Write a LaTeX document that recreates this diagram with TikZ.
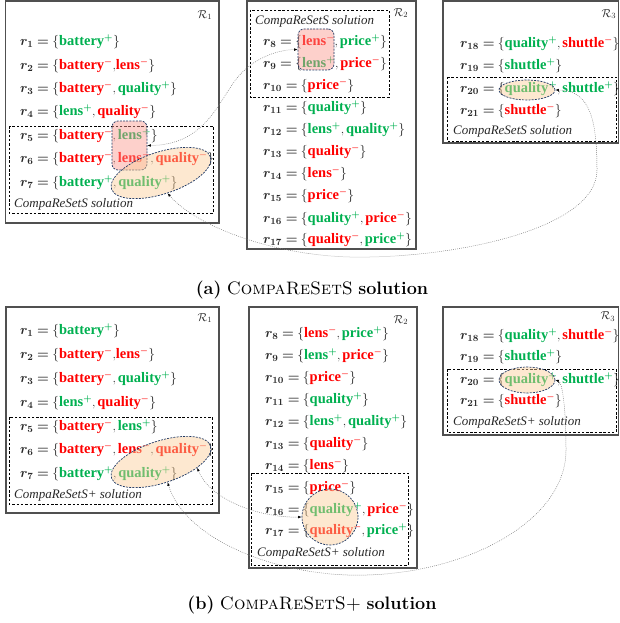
\RequirePackage{fix-cm}
\documentclass[tikz,border=0pt]{standalone}
\usepackage{fontspec}
\newfontfamily\tnr{Liberation Serif}
\usetikzlibrary{shapes.geometric,arrows.meta}
\definecolor{gr}{RGB}{0,176,80}
\definecolor{rd}{RGB}{255,0,0}
\definecolor{dk}{RGB}{40,40,40}
\definecolor{boxc}{RGB}{80,80,80}
\definecolor{pinkf}{RGB}{250,150,140}
\definecolor{orf}{RGB}{250,205,150}
\definecolor{nv}{RGB}{31,56,100}
\definecolor{cn}{RGB}{120,120,120}
\newcommand\wrd[1]{{\tnr\bfseries\fontsize{14.5}{16}\selectfont #1}}
\newcommand\Pw[1]{\textcolor{gr}{\wrd{#1}{\boldmath$^{+}$}}}
\newcommand\Nw[1]{\textcolor{rd}{\wrd{#1}{\boldmath$^{-}$}}}
\newcommand\rr[1]{{\fontsize{13.5}{15}\selectfont\boldmath$r_{#1}$\hspace{.28em}$=$\hspace{.25em}\unboldmath$\{$}}
\newcommand\cb{{\fontsize{13.5}{15}\selectfont$\}$}}
\newcommand\cm{,\hspace{.15em}}
\tikzset{
  rowt/.style={anchor=west, inner sep=0pt, font=\fontsize{12.5}{14}\selectfont, text=dk},
  sollab/.style={anchor=west, inner sep=0pt, font=\tnr\itshape\fontsize{13}{15}\selectfont, text=dk},
  rlab/.style={inner sep=0pt, text=dk, font=\fontsize{11.5}{12}\selectfont},
  outbox/.style={draw=boxc, line width=1.1pt},
  dbox/.style={draw=black, line width=0.8pt, dash pattern=on 2.5pt off 1.8pt},
  hl/.style={draw=nv, line width=0.7pt, dash pattern=on 2pt off 1.2pt, fill opacity=0.45},
  redr/.style={hl, fill=pinkf, rectangle, rounded corners=6pt, inner sep=0pt},
  orell/.style={hl, fill=orf, ellipse, inner sep=0pt},
  conn/.style={draw=cn, line width=0.5pt, dash pattern=on 0.8pt off 1.2pt,
     {Latex[length=3.5pt,width=2.6pt,color=black]}-{Latex[length=3.5pt,width=2.6pt,color=black]}},
  capt/.style={inner sep=0pt, font=\fontsize{18}{21}\selectfont, text=black}
}
\begin{document}
\begin{tikzpicture}[x=1pt,y=-1pt]
\useasboundingbox (0,0) rectangle (619,623);
% ---------------- (a) ----------------
\draw[outbox] (5.5,1) rectangle (219,223);
\draw[outbox] (247,1) rectangle (416,249);
\draw[outbox] (443,1) rectangle (618.5,143);
\draw[dbox] (9,126) rectangle (213,213);
\draw[dbox] (250,10) rectangle (389,97);
\draw[dbox] (447,77) rectangle (616.5,141);
\node[rlab] (Ra1) at (205,15) {$\mathcal{R}_1$};
\node[rlab] (Ra2) at (401,13) {$\mathcal{R}_2$};
\node[rlab] (Ra3) at (609,14) {$\mathcal{R}_3$};

\node[rowt] (a1) at (20,42) {\rr{1}\Pw{battery}\cb};
\node[rowt] (a2) at (20,66) {\rr{2}\Nw{battery},\Nw{lens}\cb};
\node[rowt] (a3) at (20,89) {\rr{3}\Nw{battery}\cm\Pw{quality}\cb};
\node[rowt] (a4) at (20,112) {\rr{4}\Pw{lens}\cm\Nw{quality}\cb};
\node[rowt] (a5) at (20,136) {\rr{5}\Nw{battery}\cm\Pw{lens}\cb};
\node[rowt] (a6) at (20,159) {\rr{6}\Nw{battery}\cm\Nw{lens}\cm\Nw{quality}\cb};
\node[rowt] (a7) at (20,183) {\rr{7}\Pw{battery}\cm\Pw{quality}\cb};
\node[sollab] (sa1) at (14,204) {CompaReSetS solution};

\node[rowt] (a8) at (263,42) {\rr{8}\Nw{lens}\cm\Pw{price}\cb};
\node[rowt] (a9) at (263,64) {\rr{9}\Pw{lens}\cm\Nw{price}\cb};
\node[rowt] (a10) at (263,86) {\rr{10}\Nw{price}\cb};
\node[rowt] (a11) at (263,108) {\rr{11}\Pw{quality}\cb};
\node[rowt] (a12) at (263,130) {\rr{12}\Pw{lens}\cm\Pw{quality}\cb};
\node[rowt] (a13) at (263,152) {\rr{13}\Nw{quality}\cb};
\node[rowt] (a14) at (263,174) {\rr{14}\Nw{lens}\cb};
\node[rowt] (a15) at (263,196) {\rr{15}\Nw{price}\cb};
\node[rowt] (a16) at (263,219) {\rr{16}\Pw{quality}\cm\Nw{price}\cb};
\node[rowt] (a17) at (263,240) {\rr{17}\Nw{quality}\cm\Pw{price}\cb};
\node[sollab] (sa2) at (255,21) {CompaReSetS solution};

\node[rowt] (a18) at (460,44) {\rr{18}\Pw{quality}\cm\Nw{shuttle}\cb};
\node[rowt] (a19) at (460,66) {\rr{19}\Pw{shuttle}\cb};
\node[rowt] (a20) at (460,89) {\rr{20}\Pw{quality}\cm\Pw{shuttle}\cb};
\node[rowt] (a21) at (460,111) {\rr{21}\Nw{shuttle}\cb};
\node[sollab] (sa3) at (453,131) {CompaReSetS solution};

\node[redr, minimum width=35pt, minimum height=49pt] (redA) at (129.5,145.5) {};
\node[orell, minimum width=104pt, minimum height=42pt, rotate=18] (ellA) at (161,173) {};
\node[redr, minimum width=36pt, minimum height=41pt] (redB) at (316,49.5) {};
\node[orell, minimum width=56pt, minimum height=20pt] (ellC) at (527,90) {};

\draw[conn] (redA.east) .. controls (200,145) and (215,110) .. (232,85)
   .. controls (248,60) and (275,50) .. (redB.west);
\draw[conn] (ellA.south) .. controls (195,225) and (270,255) .. (350,257)
   .. controls (450,259) and (597,230) .. (597,170)
   .. controls (597,120) and (590,90) .. (ellC.east);

\node[capt] (capa) at (312,290) {\textbf{(a)} \textsc{CompaReSetS} \textbf{solution}};

% ---------------- (b) ----------------
\draw[outbox] (6,307) rectangle (219,513);
\draw[outbox] (249,307) rectangle (417,568);
\draw[outbox] (443,307) rectangle (618.5,435);
\draw[dbox] (9,417) rectangle (212,504);
\draw[dbox] (251,473) rectangle (408,565);
\draw[dbox] (447,369) rectangle (616,432);
\node[rlab] (Rb1) at (205,318) {$\mathcal{R}_1$};
\node[rlab] (Rb2) at (401,320) {$\mathcal{R}_2$};
\node[rlab] (Rb3) at (608,316.5) {$\mathcal{R}_3$};

\node[rowt] (b1) at (20,331) {\rr{1}\Pw{battery}\cb};
\node[rowt] (b2) at (20,355) {\rr{2}\Nw{battery},\Nw{lens}\cb};
\node[rowt] (b3) at (20,379) {\rr{3}\Nw{battery}\cm\Pw{quality}\cb};
\node[rowt] (b4) at (20,403) {\rr{4}\Pw{lens}\cm\Nw{quality}\cb};
\node[rowt] (b5) at (20,427) {\rr{5}\Nw{battery}\cm\Pw{lens}\cb};
\node[rowt] (b6) at (20,450) {\rr{6}\Nw{battery}\cm\Nw{lens}\cm\Nw{quality}\cb};
\node[rowt] (b7) at (20,474) {\rr{7}\Pw{battery}\cm\Pw{quality}\cb};
\node[sollab] (sb1) at (14,495) {CompaReSetS+ solution};

\node[rowt] (b8) at (265,334) {\rr{8}\Nw{lens}\cm\Pw{price}\cb};
\node[rowt] (b9) at (265,356) {\rr{9}\Pw{lens}\cm\Nw{price}\cb};
\node[rowt] (b10) at (265,378) {\rr{10}\Nw{price}\cb};
\node[rowt] (b11) at (265,400) {\rr{11}\Pw{quality}\cb};
\node[rowt] (b12) at (265,422) {\rr{12}\Pw{lens}\cm\Pw{quality}\cb};
\node[rowt] (b13) at (265,444) {\rr{13}\Nw{quality}\cb};
\node[rowt] (b14) at (265,466) {\rr{14}\Nw{lens}\cb};
\node[rowt] (b15) at (265,488) {\rr{15}\Nw{price}\cb};
\node[rowt] (b16) at (265,510) {\rr{16}\Pw{quality}\cm\Nw{price}\cb};
\node[rowt] (b17) at (265,531) {\rr{17}\Nw{quality}\cm\Pw{price}\cb};
\node[sollab] (sb2) at (257,553) {CompaReSetS+ solution};

\node[rowt] (b18) at (460,336) {\rr{18}\Pw{quality}\cm\Nw{shuttle}\cb};
\node[rowt] (b19) at (460,357) {\rr{19}\Pw{shuttle}\cb};
\node[rowt] (b20) at (460,380) {\rr{20}\Pw{quality}\cm\Pw{shuttle}\cb};
\node[rowt] (b21) at (460,401) {\rr{21}\Nw{shuttle}\cb};
\node[sollab] (sb3) at (453,422) {CompaReSetS+ solution};

\node[orell, minimum width=104pt, minimum height=42pt, rotate=18] (ellB) at (161,462) {};
\node[orell, circle, minimum size=56pt] (circD) at (330,517) {};
\node[orell, minimum width=56pt, minimum height=26pt] (ellD) at (527,380) {};

\draw[conn] (ellB.-27) .. controls (210,500) and (260,518) .. (circD.west);
\draw[conn] (ellB.south) .. controls (185,540) and (280,578) .. (367,575)
   .. controls (470,572) and (566,520) .. (566,450)
   .. controls (566,405) and (562,382) .. (ellD.east);

\node[capt] (capb) at (312,605) {\textbf{(b)} \textsc{CompaReSetS+} \textbf{solution}};
\end{tikzpicture}
\end{document}
